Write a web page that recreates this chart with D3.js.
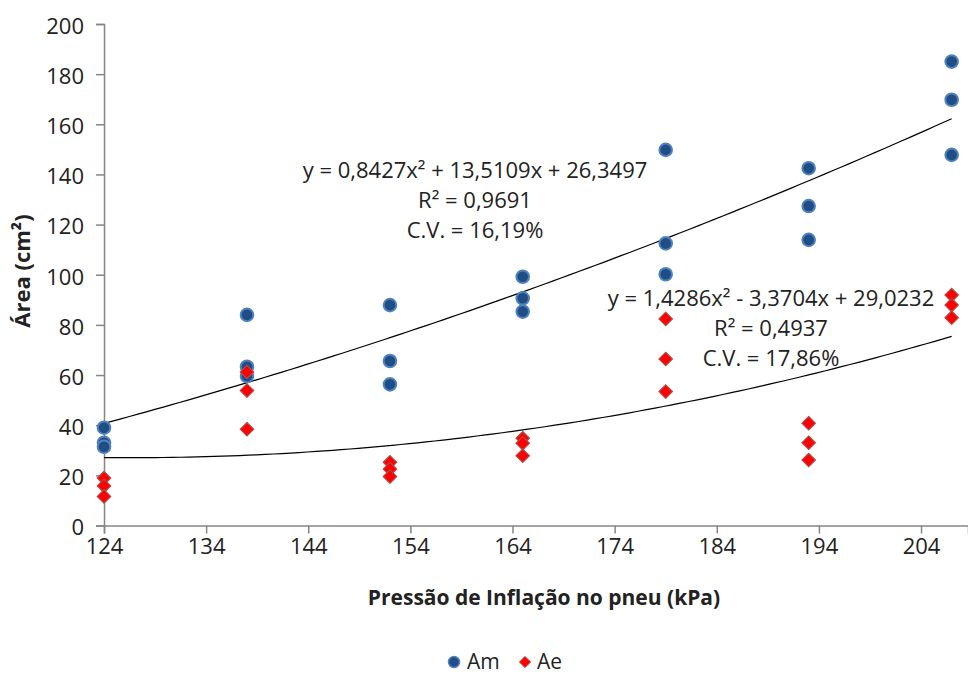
<!DOCTYPE html>
<html>
<head>
<meta charset="utf-8">
<script src="https://cdn.jsdelivr.net/npm/d3@7"></script>
<style>
  body { margin: 0; background: #fff; }
  text { font-family: "Open Sans", "Noto Sans", sans-serif; fill: #222; }
</style>
</head>
<body>
<script>
// pressure levels (kPa)
var pressures = [124, 138, 152, 165, 179, 193, 207];
// Am values, 3 repetitions per pressure
var amValues = [
  [39.0, 33.0, 31.4],
  [84.0, 63.3, 59.6],
  [87.9, 65.6, 56.3],
  [99.2, 90.6, 85.3],
  [149.8, 112.5, 100.2],
  [142.5, 127.4, 113.9],
  [185.0, 169.8, 147.8]
];
// Ae values
var aeValues = [
  [18.9, 15.8, 11.6],
  [61.2, 53.8, 38.4],
  [25.2, 22.5, 19.5],
  [34.8, 32.8, 27.8],
  [82.4, 66.4, 53.4],
  [40.8, 33.0, 26.1],
  [91.9, 87.9, 82.9]
];
// trendline coefficients (x = treatment index 1..7)
var amFit = [0.8427, 13.5109, 26.3497];
var aeFit = [1.4286, -3.3704, 29.0232];
var amLabels = ["y = 0,8427x\u00b2 + 13,5109x + 26,3497", "R\u00b2 = 0,9691", "C.V. = 16,19%"];
var aeLabels = ["y = 1,4286x\u00b2 - 3,3704x + 29,0232", "R\u00b2 = 0,4937", "C.V. = 17,86%"];
var xTicks = [124, 134, 144, 154, 164, 174, 184, 194, 204];
var yTicks = [0, 20, 40, 60, 80, 100, 120, 140, 160, 180, 200];

var w = 968, h = 675;
var svg = d3.select("body").append("svg").attr("width", w).attr("height", h);

var x = d3.scaleLinear().domain([124, 208.6]).range([104, 968]);
var y = d3.scaleLinear().domain([0, 200]).range([525.5, 24]);

// axes
var xAxis = d3.axisBottom(x).tickValues(xTicks).tickSize(8).tickPadding(5);
var yAxis = d3.axisLeft(y).tickValues(yTicks).tickSize(8).tickPadding(12);

var gx = svg.append("g").attr("transform", "translate(0," + y(0) + ")").call(xAxis);
var gy = svg.append("g").attr("transform", "translate(" + x(124) + ",0)").call(yAxis);
[gx, gy].forEach(g => {
  g.select(".domain").attr("stroke", "#868686").attr("stroke-width", 1.5);
  g.selectAll(".tick line").attr("stroke", "#868686").attr("stroke-width", 1.5);
  g.selectAll("text").style("font-family", "Open Sans").style("font-size", "22px").attr("fill", "#222");
});
gy.selectAll(".tick text").attr("dy", "0.42em");

// trendlines
var idx = d3.scaleLinear().domain([124, 207]).range([1, 7]);
function trend(c) {
  var pts = d3.range(0, 101).map(i => {
    var p = 124 + (207 - 124) * i / 100;
    var t = idx(p);
    return [p, c[0] * t * t + c[1] * t + c[2]];
  });
  return d3.line().x(d => x(d[0])).y(d => y(d[1]))(pts);
}
svg.append("path").attr("d", trend(amFit)).attr("fill", "none").attr("stroke", "#000").attr("stroke-width", 1.2);
svg.append("path").attr("d", trend(aeFit)).attr("fill", "none").attr("stroke", "#000").attr("stroke-width", 1.2);

// points
var amPts = [], aePts = [];
pressures.forEach((p, i) => {
  amValues[i].forEach(v => amPts.push({ p: p, v: v }));
  aeValues[i].forEach(v => aePts.push({ p: p, v: v }));
});

svg.append("g").selectAll("circle").data(amPts).enter().append("circle")
  .attr("cx", d => x(d.p)).attr("cy", d => y(d.v)).attr("r", 6.3)
  .attr("fill", "#1f4e86").attr("stroke", "#4f81bd").attr("stroke-width", 2);

var diamond = d3.symbol().type(d3.symbolDiamond2).size(115);
svg.append("g").selectAll("path").data(aePts).enter().append("path")
  .attr("transform", d => "translate(" + x(d.p) + "," + y(d.v) + ")")
  .attr("d", diamond)
  .attr("fill", "#ff0000").attr("stroke", "#b04a48").attr("stroke-width", 1.2);

// equation labels
function labels(lines, cx, cy) {
  svg.append("g").selectAll("text").data(lines).enter().append("text")
    .attr("x", cx).attr("y", (d, i) => cy + i * 30)
    .attr("text-anchor", "middle").attr("dy", "0.35em")
    .style("font-size", "22px")
    .text(d => d);
}
labels(amLabels, 475, 170);
labels(aeLabels, 771, 298);

// axis titles
svg.append("text").attr("x", 544).attr("y", 598).attr("dy", "0.35em")
  .attr("text-anchor", "middle").style("font-size", "21px").style("font-weight", "bold")
  .text("Pressão de Inflação no pneu (kPa)");
svg.append("text").attr("transform", "translate(22,271) rotate(-90)").attr("dy", "0.35em")
  .attr("text-anchor", "middle").style("font-size", "22px").style("font-weight", "bold")
  .text("Área (cm²)");

// legend
var lg = svg.append("g");
lg.append("circle").attr("cx", 454).attr("cy", 662).attr("r", 5.5).attr("fill", "#1f4e86").attr("stroke", "#4f81bd").attr("stroke-width", 1.5);
lg.append("text").attr("x", 467).attr("y", 662).attr("dy", "0.35em").style("font-size", "21px").text("Am");
lg.append("path").attr("transform", "translate(525,662)").attr("d", d3.symbol().type(d3.symbolDiamond2).size(80))
  .attr("fill", "#ff0000").attr("stroke", "#b04a48").attr("stroke-width", 1);
lg.append("text").attr("x", 537).attr("y", 662).attr("dy", "0.35em").style("font-size", "21px").text("Ae");
</script>
</body>
</html>
